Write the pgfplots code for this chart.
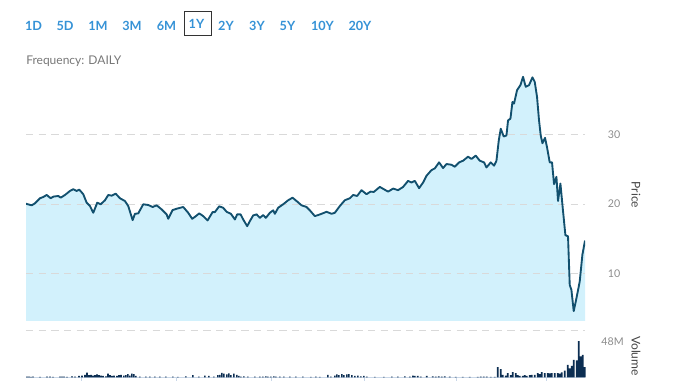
\documentclass[border=0pt]{standalone}
\usepackage{fontspec}
\setmainfont{Lato}
\usepackage{pgfplots}
\pgfplotsset{compat=1.18}
\definecolor{btn}{HTML}{3592D6}
\definecolor{freq}{HTML}{777777}
\definecolor{tickc}{HTML}{8C8C8C}
\definecolor{labc}{HTML}{444444}
\definecolor{fillc}{HTML}{D2F1FC}
\definecolor{linec}{HTML}{12506E}
\definecolor{volc}{HTML}{0C2E52}
\definecolor{gridc}{HTML}{D9D9D9}
\definecolor{basec}{HTML}{C9D7E8}
\pgfplotstableread{
x p
26 20.04
31.7 19.81
35 20.10
40 20.83
43.3 21.01
46.7 21.30
50.7 20.83
53.3 21.06
58.3 21.16
60.7 20.91
65 21.30
70 21.88
73.3 22.13
76.7 21.88
79.3 22.07
83.3 21.41
86.7 20.19
90 19.71
93.3 18.74
97.3 20.19
100.7 19.96
105 20.54
108.3 21.30
111.7 21.20
115.7 21.49
120 20.83
125 20.43
128.3 19.71
132.7 17.68
135 18.59
138.3 18.65
143.3 19.96
148.3 19.86
152.7 19.57
156.7 19.81
161.7 19.23
166.7 18.51
168.3 17.87
172.7 19.13
176.7 19.32
183.3 19.57
188.3 18.74
192.3 17.87
196 18.26
199.3 18.65
203.3 18.26
207.7 17.64
212.7 18.84
215 18.84
219.3 19.67
223.3 19.46
226.7 18.88
231 18.59
235 17.78
237.3 18.51
240.7 18.51
243.3 17.78
247.3 16.81
250 17.54
253.3 18.36
256.7 18.51
260 18.01
263.3 18.41
266 18.01
270 18.74
273.3 19.09
275 18.59
278.3 19.46
283.3 19.96
288.3 20.54
292.7 20.91
296.7 20.43
301.7 19.81
306.7 19.57
310 19.09
315 18.26
318.3 18.41
321.7 18.59
326.7 18.88
331.7 18.59
335 18.74
340 19.71
345 20.54
350 20.83
353.3 21.30
357.3 21.16
361.7 21.99
366.7 21.41
370.7 21.78
374 21.74
380 22.46
384 22.13
388.3 21.78
393.3 22.22
398.3 21.99
403.3 22.46
408.3 23.33
411.7 23.09
415 23.33
419.3 22.28
423.3 23.09
426.7 24.06
431.7 24.88
435 25.12
439.3 25.99
443.3 25.17
446.7 25.75
451.7 25.65
455 25.36
459.3 25.99
463.3 26.23
468.3 26.81
471.7 26.48
476 26.96
480 26.23
484.3 25.99
486.7 25.26
491 25.99
494.3 25.51
496.7 26.23
499 29.13
501 30.83
504 29.71
506.7 29.86
508.3 32.03
510.7 32.28
512.7 34.68
514.3 34.45
517.3 36.38
520.7 37.10
523.3 38.30
526 36.86
529.3 37.10
532.7 38.22
535 37.58
537.3 35.41
539.3 32.03
541 29.86
542.7 28.74
545.3 29.52
547.3 28.16
550 25.99
552.3 25.99
554.3 22.86
556.7 23.91
558.3 20.43
560.7 22.94
563.3 18.99
565.7 15.51
568.3 15.36
570 8.36
571.7 7.64
574 4.59
576.7 6.42
580 8.84
582.7 12.71
585.3 14.74
}\pricetable
\pgfplotstableread{
x v
27 1.0
29 1.0
31 0.8
33 1.0
40 0.7
47 1.0
50 1.0
53 0.9
60 1.2
62 1.0
64 1.3
67 0.8
72 1.5
75 1.2
79 2.0
82 2.5
85 3.5
87 6.5
89 3.0
91 3.5
93 2.5
95 3.0
97 4.0
99 3.0
101 2.5
103 2.0
106 1.5
108 5.0
110 3.0
112 2.0
114 2.5
117 2.0
119 3.0
121 3.5
124 2.5
126 3.0
128 4.5
130 2.5
132 5.0
134 4.5
136 2.0
140 1.0
146 1.2
150 1.0
155 1.0
160 1.2
166 1.0
173 1.0
178 0.8
186 1.5
193 3.0
199 1.0
205 2.5
209 2.0
214 1.0
218 3.0
220 3.5
222 6.0
224 5.0
227 4.0
229 5.5
231 3.0
234 5.0
237 3.5
239 2.0
241 1.0
244 1.5
248 1.0
255 1.2
260 1.0
263 1.0
266 1.5
268 1.0
271 1.2
274 1.5
276 1.2
280 1.0
284 1.2
290 1.0
296 1.0
303 1.0
311 0.8
316 1.0
320 0.8
328 3.5
331 1.0
335 2.5
337 4.0
339 3.0
342 4.5
344 3.0
347 4.0
349 4.5
352 3.0
355 2.0
358 2.5
361 1.5
364 2.0
367 1.0
375 0.8
384 0.8
392 1.0
398 1.0
405 1.5
410 1.0
413 2.5
415 2.0
418 2.0
421 1.0
427 2.0
433 1.5
436 1.0
439 1.5
442 1.0
445 1.5
450 1.0
456 0.8
463 0.8
470 0.8
478 0.8
481 1.0
484 1.2
487 1.0
491 0.8
495 0.8
498 13.7
501 11.0
503 3.6
506 2.5
508 5.7
511 3.0
513 7.1
516 5.7
518 3.0
520 2.3
523 2.3
525 3.0
527 2.3
530 3.0
532 3.6
535 3.6
538 5.7
540 4.5
542 7.1
545 5.7
548 5.7
550 5.5
552 5.7
555 5.7
558 5.7
560 5.0
562 6.7
565 9.3
568 16.9
570 12.0
572 15.6
574 23.6
577 22.7
579 48.5
581 28.0
583 30.2
585 13.7
}\voltable
\begin{document}
\begin{tikzpicture}
\useasboundingbox (0,0) rectangle (508.5pt,285.75pt);
% range buttons
\begin{scope}[every node/.style={inner sep=0pt, font=\fontsize{9.5}{11}\selectfont\bfseries, text=btn}]
\node at (25.125pt,266.625pt) {1D};
\node at (48.75pt,266.625pt) {5D};
\node at (73.5pt,266.625pt) {1M};
\node at (99pt,266.625pt) {3M};
\node at (124.875pt,266.625pt) {6M};
\node at (147.375pt,267.75pt) {1Y};
\node at (169.5pt,266.625pt) {2Y};
\node at (192.75pt,266.625pt) {3Y};
\node at (215.625pt,266.625pt) {5Y};
\node at (241.875pt,266.625pt) {10Y};
\node at (270pt,266.625pt) {20Y};
\end{scope}
\draw[color=black!80, line width=0.75pt] (138pt,258.75pt) rectangle (158.25pt,276.75pt);
\node[anchor=west, inner sep=0pt, text=freq, font=\fontsize{9}{11}\selectfont] at (19.5pt,239.625pt) {Frequency: DAILY};
% price axis
\begin{axis}[
  at={(19.5pt,45pt)}, anchor=south west,
  width=419.25pt, height=188.25pt, scale only axis,
  xmin=26, xmax=585.3, ymin=3.17, ymax=39.28,
  axis line style={draw=none},
  xtick=\empty, ytick={10,20,30},
  major tick length=0pt,
  yticklabel pos=right,
  yticklabel style={anchor=east, xshift=30pt, text=tickc, font=\fontsize{8}{10}\selectfont},
  /pgf/number format/assume math mode=true,
]
\addplot[fill=fillc, draw=none] table[x=x, y=p] {\pricetable} \closedcycle;
\draw[gridc, line width=0.75pt, dash pattern=on 5.5pt off 4pt] (axis cs:26,10) -- (axis cs:585.3,10);
\draw[gridc, line width=0.75pt, dash pattern=on 5.5pt off 4pt] (axis cs:26,20) -- (axis cs:585.3,20);
\draw[gridc, line width=0.75pt, dash pattern=on 5.5pt off 4pt] (axis cs:26,30) -- (axis cs:585.3,30);
\addplot[linec, line width=1.4pt, line join=round, mark=none] table[x=x, y=p] {\pricetable};
\end{axis}
\node[rotate=-90, text=labc, inner sep=0pt, font=\fontsize{9}{11}\selectfont] at (477pt,139.5pt) {Price};
% volume axis
\begin{axis}[
  at={(19.5pt,2.625pt)}, anchor=south west,
  width=419.25pt, height=35.625pt, scale only axis,
  xmin=26, xmax=585.3, ymin=0, ymax=63.3,
  axis line style={draw=none}, clip=false,
  xtick={81.5,176.7,272,365,457,547}, xticklabels={},
  xtick pos=bottom, tick align=outside,
  major tick length=2.6pt,
  xtick style={draw=basec, line width=0.6pt},
  ytick={48}, yticklabels={48M},
  ytick style={draw=none},
  yticklabel pos=right,
  yticklabel style={anchor=east, xshift=30pt, text=tickc, font=\fontsize{8}{10}\selectfont},
]
\draw[gridc, line width=0.75pt, dash pattern=on 5.5pt off 4pt] (axis cs:26,63.3) -- (axis cs:585.3,63.3);
\draw[basec, line width=0.75pt] (axis cs:26,0) -- (axis cs:585.3,0);
\addplot[ybar, bar width=1.2pt, fill=volc, draw=none] table[x=x, y=v] {\voltable};
\end{axis}
\node[rotate=-90, text=labc, inner sep=0pt, font=\fontsize{9}{11}\selectfont] at (477pt,18.75pt) {Volume};
\end{tikzpicture}
\end{document}
